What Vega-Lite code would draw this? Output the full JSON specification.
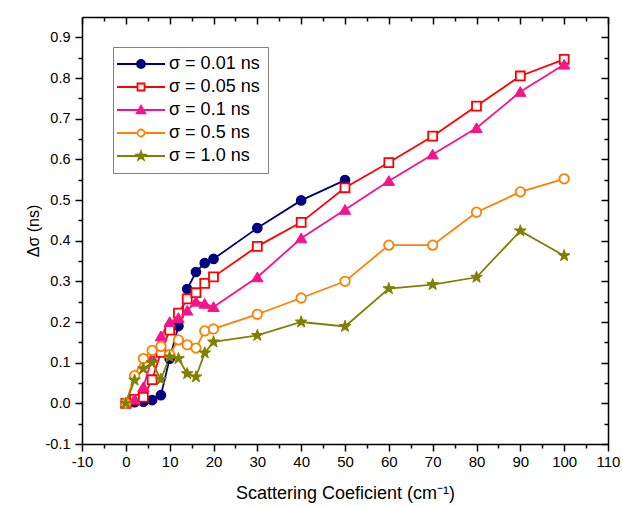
{
  "$schema": "https://vega.github.io/schema/vega-lite/v6.json",
  "width": 526,
  "height": 427,
  "autosize": {"type": "none"},
  "padding": {"left": 82, "top": 17, "right": 15, "bottom": 62},
  "background": "white",
  "config": {
    "view": {"stroke": null},
    "font": "Liberation Sans",
    "axis": {
      "labelFont": "Liberation Sans",
      "titleFont": "Liberation Sans",
      "labelColor": "black",
      "titleColor": "black",
      "tickColor": "black",
      "domainColor": "black",
      "tickWidth": 1.5,
      "domainWidth": 1.5,
      "grid": false,
      "titleFontWeight": "normal",
      "labelFlush": false,
      "labelOverlap": false
    }
  },
  "data": {
    "values": [
      {"s": "σ = 0.01 ns", "x": 0, "y": 0},
      {"s": "σ = 0.01 ns", "x": 2, "y": 0.003},
      {"s": "σ = 0.01 ns", "x": 4, "y": 0.004},
      {"s": "σ = 0.01 ns", "x": 6, "y": 0.008},
      {"s": "σ = 0.01 ns", "x": 8, "y": 0.02},
      {"s": "σ = 0.01 ns", "x": 10, "y": 0.11},
      {"s": "σ = 0.01 ns", "x": 12, "y": 0.19},
      {"s": "σ = 0.01 ns", "x": 14, "y": 0.281},
      {"s": "σ = 0.01 ns", "x": 16, "y": 0.323},
      {"s": "σ = 0.01 ns", "x": 18, "y": 0.345},
      {"s": "σ = 0.01 ns", "x": 20, "y": 0.355},
      {"s": "σ = 0.01 ns", "x": 30, "y": 0.431},
      {"s": "σ = 0.01 ns", "x": 40, "y": 0.499},
      {"s": "σ = 0.01 ns", "x": 50, "y": 0.549},
      {"s": "σ = 0.05 ns", "x": 0, "y": 0},
      {"s": "σ = 0.05 ns", "x": 2, "y": 0.01},
      {"s": "σ = 0.05 ns", "x": 4, "y": 0.015},
      {"s": "σ = 0.05 ns", "x": 6, "y": 0.058},
      {"s": "σ = 0.05 ns", "x": 8, "y": 0.125},
      {"s": "σ = 0.05 ns", "x": 10, "y": 0.18},
      {"s": "σ = 0.05 ns", "x": 12, "y": 0.222},
      {"s": "σ = 0.05 ns", "x": 14, "y": 0.257},
      {"s": "σ = 0.05 ns", "x": 16, "y": 0.272},
      {"s": "σ = 0.05 ns", "x": 18, "y": 0.295},
      {"s": "σ = 0.05 ns", "x": 20, "y": 0.311},
      {"s": "σ = 0.05 ns", "x": 30, "y": 0.386},
      {"s": "σ = 0.05 ns", "x": 40, "y": 0.445},
      {"s": "σ = 0.05 ns", "x": 50, "y": 0.53},
      {"s": "σ = 0.05 ns", "x": 60, "y": 0.592},
      {"s": "σ = 0.05 ns", "x": 70, "y": 0.657},
      {"s": "σ = 0.05 ns", "x": 80, "y": 0.731},
      {"s": "σ = 0.05 ns", "x": 90, "y": 0.805},
      {"s": "σ = 0.05 ns", "x": 100, "y": 0.846},
      {"s": "σ = 0.1 ns", "x": 0, "y": 0},
      {"s": "σ = 0.1 ns", "x": 2, "y": 0.01},
      {"s": "σ = 0.1 ns", "x": 4, "y": 0.04},
      {"s": "σ = 0.1 ns", "x": 6, "y": 0.112},
      {"s": "σ = 0.1 ns", "x": 8, "y": 0.165},
      {"s": "σ = 0.1 ns", "x": 10, "y": 0.2},
      {"s": "σ = 0.1 ns", "x": 12, "y": 0.21},
      {"s": "σ = 0.1 ns", "x": 14, "y": 0.228},
      {"s": "σ = 0.1 ns", "x": 16, "y": 0.25},
      {"s": "σ = 0.1 ns", "x": 18, "y": 0.245},
      {"s": "σ = 0.1 ns", "x": 20, "y": 0.237},
      {"s": "σ = 0.1 ns", "x": 30, "y": 0.31},
      {"s": "σ = 0.1 ns", "x": 40, "y": 0.406},
      {"s": "σ = 0.1 ns", "x": 50, "y": 0.476},
      {"s": "σ = 0.1 ns", "x": 60, "y": 0.547},
      {"s": "σ = 0.1 ns", "x": 70, "y": 0.612},
      {"s": "σ = 0.1 ns", "x": 80, "y": 0.677},
      {"s": "σ = 0.1 ns", "x": 90, "y": 0.766},
      {"s": "σ = 0.1 ns", "x": 100, "y": 0.833},
      {"s": "σ = 0.5 ns", "x": 0, "y": 0},
      {"s": "σ = 0.5 ns", "x": 2, "y": 0.068},
      {"s": "σ = 0.5 ns", "x": 4, "y": 0.11},
      {"s": "σ = 0.5 ns", "x": 6, "y": 0.13},
      {"s": "σ = 0.5 ns", "x": 8, "y": 0.14},
      {"s": "σ = 0.5 ns", "x": 10, "y": 0.12},
      {"s": "σ = 0.5 ns", "x": 12, "y": 0.156},
      {"s": "σ = 0.5 ns", "x": 14, "y": 0.144},
      {"s": "σ = 0.5 ns", "x": 16, "y": 0.136},
      {"s": "σ = 0.5 ns", "x": 18, "y": 0.178},
      {"s": "σ = 0.5 ns", "x": 20, "y": 0.183},
      {"s": "σ = 0.5 ns", "x": 30, "y": 0.219},
      {"s": "σ = 0.5 ns", "x": 40, "y": 0.259},
      {"s": "σ = 0.5 ns", "x": 50, "y": 0.3},
      {"s": "σ = 0.5 ns", "x": 60, "y": 0.389},
      {"s": "σ = 0.5 ns", "x": 70, "y": 0.389},
      {"s": "σ = 0.5 ns", "x": 80, "y": 0.47},
      {"s": "σ = 0.5 ns", "x": 90, "y": 0.52},
      {"s": "σ = 0.5 ns", "x": 100, "y": 0.552},
      {"s": "σ = 1.0 ns", "x": 0, "y": 0},
      {"s": "σ = 1.0 ns", "x": 2, "y": 0.057},
      {"s": "σ = 1.0 ns", "x": 4, "y": 0.085},
      {"s": "σ = 1.0 ns", "x": 6, "y": 0.1},
      {"s": "σ = 1.0 ns", "x": 8, "y": 0.059},
      {"s": "σ = 1.0 ns", "x": 10, "y": 0.114},
      {"s": "σ = 1.0 ns", "x": 12, "y": 0.11},
      {"s": "σ = 1.0 ns", "x": 14, "y": 0.073},
      {"s": "σ = 1.0 ns", "x": 16, "y": 0.065},
      {"s": "σ = 1.0 ns", "x": 18, "y": 0.124},
      {"s": "σ = 1.0 ns", "x": 20, "y": 0.151},
      {"s": "σ = 1.0 ns", "x": 30, "y": 0.167},
      {"s": "σ = 1.0 ns", "x": 40, "y": 0.2},
      {"s": "σ = 1.0 ns", "x": 50, "y": 0.189},
      {"s": "σ = 1.0 ns", "x": 60, "y": 0.282},
      {"s": "σ = 1.0 ns", "x": 70, "y": 0.292},
      {"s": "σ = 1.0 ns", "x": 80, "y": 0.31},
      {"s": "σ = 1.0 ns", "x": 90, "y": 0.424},
      {"s": "σ = 1.0 ns", "x": 100, "y": 0.363}
    ]
  },
  "resolve": {"axis": {"x": "independent", "y": "independent"}},
  "layer": [
    {
      "mark": {"type": "line", "strokeWidth": 1.8},
      "encoding": {
        "x": {
          "field": "x", "type": "quantitative",
          "scale": {"domain": [-10, 110], "nice": false, "zero": false},
          "axis": {
            "orient": "bottom",
            "values": [-10, 0, 10, 20, 30, 40, 50, 60, 70, 80, 90, 100, 110],
            "tickSize": 7,
            "labelFontSize": 15,
            "labelPadding": 3,
            "labelExpr": "replace(datum.label, '−', '-')",
            "title": "Scattering Coeficient (cm⁻¹)",
            "titleFontSize": 18,
            "titlePadding": 15
          }
        },
        "y": {
          "field": "y", "type": "quantitative",
          "scale": {"domain": [-0.1, 0.95], "nice": false, "zero": false},
          "axis": {
            "orient": "left",
            "values": [-0.1, 0, 0.1, 0.2, 0.3, 0.4, 0.5, 0.6, 0.7, 0.8, 0.9],
            "format": ".1f",
            "tickSize": 7,
            "labelFontSize": 14.5,
            "labelPadding": 5,
            "labelExpr": "replace(datum.label, '−', '-')",
            "title": "Δσ  (ns)",
            "titleFontSize": 16,
            "titlePadding": 4
          }
        },
        "color": {
          "field": "s", "type": "nominal",
          "scale": {
            "domain": ["σ = 0.01 ns", "σ = 0.05 ns", "σ = 0.1 ns", "σ = 0.5 ns", "σ = 1.0 ns"],
            "range": ["#000080", "#ff0000", "#f5148c", "#ff8000", "#808000"]
          },
          "legend": {
            "title": null,
            "orient": "none",
            "legendX": 31,
            "legendY": 30,
            "strokeColor": "#808080",
            "fillColor": "white",
            "padding": 8,
            "labelFont": "Liberation Sans",
            "labelFontSize": 18,
            "labelColor": "black",
            "labelOffset": 30,
            "symbolSize": 100,
            "symbolStrokeWidth": 1.8,
            "symbolOpacity": 1,
            "rowPadding": 5
          }
        }
      }
    },
    {
      "transform": [{"filter": "false"}],
      "mark": {"type": "point", "filled": true},
      "encoding": {
        "x": {
          "field": "x", "type": "quantitative",
          "scale": {"domain": [-10, 110], "nice": false, "zero": false},
          "axis": {
            "orient": "bottom",
            "values": [-5, 5, 15, 25, 35, 45, 55, 65, 75, 85, 95, 105],
            "tickSize": 4,
            "labels": false,
            "domain": false,
            "title": null
          }
        },
        "y": {
          "field": "y", "type": "quantitative",
          "scale": {"domain": [-0.1, 0.95], "nice": false, "zero": false},
          "axis": {
            "orient": "left",
            "values": [-0.05, 0.05, 0.15, 0.25, 0.35, 0.45, 0.55, 0.65, 0.75, 0.85],
            "tickSize": 4,
            "labels": false,
            "domain": false,
            "title": null
          }
        },
        "shape": {
          "field": "s", "type": "nominal",
          "scale": {
            "domain": ["σ = 0.01 ns", "σ = 0.05 ns", "σ = 0.1 ns", "σ = 0.5 ns", "σ = 1.0 ns"],
            "range": [
              "M-2.6,0H7M3,0A0.8,0.8,0,1,1,1.4,0A0.8,0.8,0,1,1,3,0Z",
              "M-2.6,0H1.5M2.9,0H7M1.5,-0.7H2.9V0.7H1.5Z",
              "M-2.6,0H7M2.2,-0.85L3.05,0.65L1.35,0.65Z",
              "M-2.6,0H1.5M2.9,0H7M2.9,0A0.7,0.7,0,1,1,1.5,0A0.7,0.7,0,1,1,2.9,0Z",
              "M-2.6,0H7M2.2,-0.9L2.412,-0.292L3.056,-0.278L2.542,0.112L2.729,0.728L2.2,0.36L1.671,0.728L1.858,0.112L1.344,-0.278L1.988,-0.292Z"
            ]
          },
          "legend": null
        },
        "fill": {
          "field": "s", "type": "nominal",
          "scale": {
            "domain": ["σ = 0.01 ns", "σ = 0.05 ns", "σ = 0.1 ns", "σ = 0.5 ns", "σ = 1.0 ns"],
            "range": ["#000080", "#ffffff", "#f5148c", "#ffffff", "#808000"]
          },
          "legend": null
        },
        "stroke": {
          "field": "s", "type": "nominal",
          "scale": {
            "domain": ["σ = 0.01 ns", "σ = 0.05 ns", "σ = 0.1 ns", "σ = 0.5 ns", "σ = 1.0 ns"],
            "range": ["#000080", "#ff0000", "#f5148c", "#ff8000", "#808000"]
          },
          "legend": null
        }
      }
    },
    {
      "mark": {"type": "point", "opacity": 0},
      "encoding": {
        "x": {
          "field": "x", "type": "quantitative",
          "scale": {"domain": [-10, 110], "nice": false, "zero": false},
          "axis": {
            "orient": "top",
            "values": [-10, 0, 10, 20, 30, 40, 50, 60, 70, 80, 90, 100, 110],
            "tickSize": -7,
            "labels": false,
            "title": null
          }
        },
        "y": {
          "field": "y", "type": "quantitative",
          "scale": {"domain": [-0.1, 0.95], "nice": false, "zero": false},
          "axis": {
            "orient": "right",
            "values": [-0.1, 0, 0.1, 0.2, 0.3, 0.4, 0.5, 0.6, 0.7, 0.8, 0.9],
            "tickSize": -7,
            "labels": false,
            "title": null
          }
        }
      }
    },
    {
      "mark": {"type": "point", "opacity": 0},
      "encoding": {
        "x": {
          "field": "x", "type": "quantitative",
          "scale": {"domain": [-10, 110], "nice": false, "zero": false},
          "axis": {
            "orient": "top",
            "values": [-5, 5, 15, 25, 35, 45, 55, 65, 75, 85, 95, 105],
            "tickSize": -4,
            "labels": false,
            "domain": false,
            "title": null
          }
        },
        "y": {
          "field": "y", "type": "quantitative",
          "scale": {"domain": [-0.1, 0.95], "nice": false, "zero": false},
          "axis": {
            "orient": "right",
            "values": [-0.05, 0.05, 0.15, 0.25, 0.35, 0.45, 0.55, 0.65, 0.75, 0.85],
            "tickSize": -4,
            "labels": false,
            "domain": false,
            "title": null
          }
        }
      }
    },
    {
      "transform": [{"filter": "datum.s === 'σ = 0.01 ns'"}],
      "mark": {"type": "point", "shape": "circle", "filled": true, "size": 90, "fill": "#000080", "stroke": "#000080", "strokeWidth": 1.2, "opacity": 1},
      "encoding": {
        "x": {"field": "x", "type": "quantitative", "axis": null},
        "y": {"field": "y", "type": "quantitative", "axis": null}
      }
    },
    {
      "transform": [{"filter": "datum.s === 'σ = 0.05 ns'"}],
      "mark": {"type": "point", "shape": "square", "filled": true, "size": 80, "fill": "#ffffff", "stroke": "#ff0000", "strokeWidth": 1.8, "opacity": 1},
      "encoding": {
        "x": {"field": "x", "type": "quantitative", "axis": null},
        "y": {"field": "y", "type": "quantitative", "axis": null}
      }
    },
    {
      "transform": [{"filter": "datum.s === 'σ = 0.1 ns'"}],
      "mark": {"type": "point", "shape": "M0,-1.1L1.2,0.95L-1.2,0.95Z", "filled": true, "size": 90, "fill": "#f5148c", "stroke": "#f5148c", "strokeWidth": 1, "opacity": 1},
      "encoding": {
        "x": {"field": "x", "type": "quantitative", "axis": null},
        "y": {"field": "y", "type": "quantitative", "axis": null}
      }
    },
    {
      "transform": [{"filter": "datum.s === 'σ = 0.5 ns'"}],
      "mark": {"type": "point", "shape": "circle", "filled": true, "size": 90, "fill": "#ffffff", "stroke": "#ff8000", "strokeWidth": 1.8, "opacity": 1},
      "encoding": {
        "x": {"field": "x", "type": "quantitative", "axis": null},
        "y": {"field": "y", "type": "quantitative", "axis": null}
      }
    },
    {
      "transform": [{"filter": "datum.s === 'σ = 1.0 ns'"}],
      "mark": {"type": "point", "shape": "M0,-1.3L0.306,-0.421L1.236,-0.402L0.494,0.161L0.764,1.052L0,0.52L-0.764,1.052L-0.494,0.161L-1.236,-0.402L-0.306,-0.421Z", "filled": true, "size": 90, "fill": "#808000", "stroke": "#808000", "strokeWidth": 1, "opacity": 1},
      "encoding": {
        "x": {"field": "x", "type": "quantitative", "axis": null},
        "y": {"field": "y", "type": "quantitative", "axis": null}
      }
    }
  ]
}
